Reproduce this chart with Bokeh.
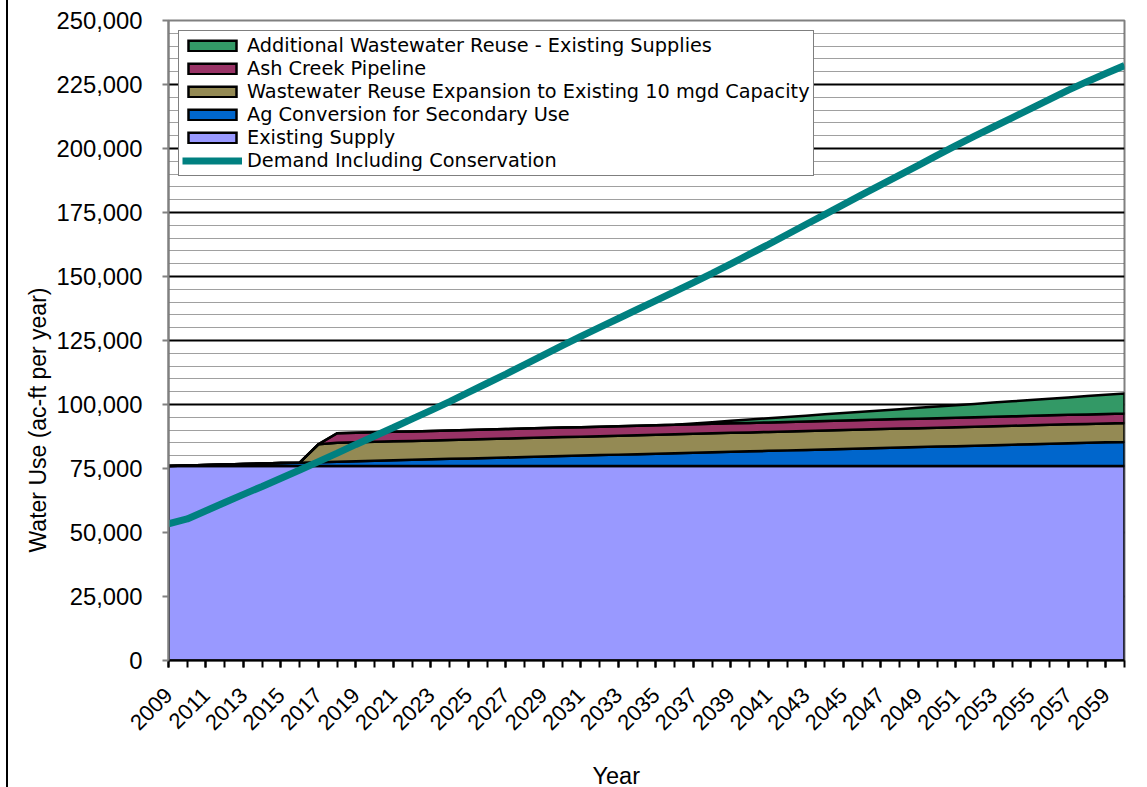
from bokeh.plotting import figure
from bokeh.models import (Range1d, FixedTicker, NumeralTickFormatter, Legend,
                          LegendItem, Title)
from bokeh.embed import file_html
from bokeh.resources import INLINE
import math

# ---- data (acre-feet per year) ----
years = list(range(2009, 2061))

existing_supply = [
    76000, 76000, 76000, 76000, 76000, 76000, 76000, 76000, 76000, 76000,
    76000, 76000, 76000, 76000, 76000, 76000, 76000, 76000, 76000, 76000,
    76000, 76000, 76000, 76000, 76000, 76000, 76000, 76000, 76000, 76000,
    76000, 76000, 76000, 76000, 76000, 76000, 76000, 76000, 76000, 76000,
    76000, 76000, 76000, 76000, 76000, 76000, 76000, 76000, 76000, 76000,
    76000, 76000,
]
ag_conversion = [
    0, 180, 370, 550, 740, 920, 1100, 1290, 1470, 1660,
    1840, 2030, 2210, 2390, 2580, 2760, 2950, 3130, 3320, 3500,
    3690, 3870, 4050, 4240, 4420, 4610, 4790, 4980, 5160, 5350,
    5530, 5710, 5900, 6080, 6270, 6450, 6640, 6820, 7010, 7190,
    7370, 7560, 7740, 7930, 8110, 8300, 8480, 8670, 8850, 9030,
    9220, 9400,
]
wastewater_expansion = [
    0, 0, 0, 0, 0, 0, 0, 0, 7000, 7400,
    7400, 7400, 7400, 7400, 7400, 7400, 7400, 7400, 7400, 7400,
    7400, 7400, 7400, 7400, 7400, 7400, 7400, 7400, 7400, 7400,
    7400, 7400, 7400, 7400, 7400, 7400, 7400, 7400, 7400, 7400,
    7400, 7400, 7400, 7400, 7400, 7400, 7400, 7400, 7400, 7400,
    7400, 7400,
]
ash_creek = [
    0, 0, 0, 0, 0, 0, 0, 0, 0, 3700,
    3700, 3700, 3700, 3700, 3700, 3700, 3700, 3700, 3700, 3700,
    3700, 3700, 3700, 3700, 3700, 3700, 3700, 3700, 3700, 3700,
    3700, 3700, 3700, 3700, 3700, 3700, 3700, 3700, 3700, 3700,
    3700, 3700, 3700, 3700, 3700, 3700, 3700, 3700, 3700, 3700,
    3700, 3700,
]
additional_reuse = [
    0, 0, 0, 0, 0, 0, 0, 0, 0, 0,
    0, 0, 0, 0, 0, 0, 0, 0, 0, 0,
    0, 0, 0, 0, 0, 0, 0, 0, 330, 650,
    980, 1300, 1630, 1950, 2280, 2600, 2930, 3250, 3580, 3900,
    4230, 4550, 4880, 5200, 5530, 5850, 6180, 6500, 6830, 7150,
    7480, 7800,
]
demand = [
    53400, 55300, 58500, 61700, 64900, 68000, 71200, 74400, 77700, 81000,
    84400, 87700, 91000, 94400, 97700, 101100, 104700, 108300, 111900, 115600,
    119300, 123000, 126600, 130100, 133600, 137100, 140600, 144100, 147600, 151200,
    154900, 158700, 162500, 166400, 170300, 174200, 178100, 182000, 185800, 189600,
    193400, 197300, 201100, 204800, 208400, 212000, 215600, 219200, 222800, 226100,
    229300, 232400,
]

supply_names = [
    "Existing Supply",
    "Ag Conversion for Secondary Use",
    "Wastewater Reuse Expansion to Existing 10 mgd Capacity",
    "Ash Creek Pipeline",
    "Additional Wastewater Reuse - Existing Supplies",
]
supply_series = [existing_supply, ag_conversion, wastewater_expansion,
                 ash_creek, additional_reuse]
supply_colors = ["#9999FF", "#0066CC", "#948A54", "#993366", "#339966"]

y_ticks = list(range(0, 250001, 25000))
y_minor = list(range(0, 250001, 5000))
x_label_years = list(range(2009, 2060, 2))

FONT = "Liberation Sans"

p = figure(
    width=1139, height=787,
    frame_width=956, frame_height=640,
    min_border_left=160, min_border_right=23,
    min_border_top=20, min_border_bottom=127,
    x_range=Range1d(2009, 2060), y_range=Range1d(0, 250000),
    output_backend="svg", toolbar_location=None,
)
p.background_fill_color = "white"
p.border_fill_color = "white"
p.outline_line_color = "#808080"
p.outline_line_width = 2
# thin rule along the left edge of the chart area
p.styles = {"margin-left": "8px", "box-shadow": "-2px 0 0 0 black"}

# grid: solid every 25,000 and fine dotted every 5,000
p.xgrid.visible = False
p.ygrid.ticker = FixedTicker(ticks=y_ticks, minor_ticks=y_minor)
p.ygrid.grid_line_color = "black"
p.ygrid.grid_line_width = 2
p.ygrid.minor_grid_line_color = "#404040"
p.ygrid.minor_grid_line_dash = "1 1"
p.ygrid.minor_grid_line_width = 1

# stacked supply areas with black outlines
bottom = [0] * len(years)
renderers = {}
for name, series, color in zip(supply_names, supply_series, supply_colors):
    top = [b + v for b, v in zip(bottom, series)]
    xs = years + years[::-1]
    ys = top + bottom[::-1]
    r = p.patch(xs, ys, fill_color=color, line_color="black", line_width=2.5,
                line_join="miter")
    renderers[name] = r
    bottom = top

demand_r = p.line(years, demand, line_color="#008080", line_width=7)

# axes
p.yaxis.ticker = FixedTicker(ticks=y_ticks)
p.yaxis.formatter = NumeralTickFormatter(format="0,0")
p.yaxis.major_label_text_font = FONT
p.yaxis.major_label_text_font_size = "23.8px"
p.yaxis.major_label_text_color = "black"
p.yaxis.major_label_standoff = 20
p.yaxis.axis_line_color = "#808080"
p.yaxis.axis_line_width = 2
p.yaxis.major_tick_line_color = "#808080"
p.yaxis.major_tick_line_width = 2
p.yaxis.major_tick_out = 6
p.yaxis.major_tick_in = 0
p.yaxis.minor_tick_out = 0
p.yaxis.minor_tick_in = 0

p.xaxis.ticker = FixedTicker(ticks=x_label_years, minor_ticks=years)
p.xaxis.major_label_overrides = {y: str(y) for y in x_label_years}
p.xaxis.major_label_orientation = math.pi / 4
p.xaxis.major_label_text_font = FONT
p.xaxis.major_label_text_font_size = "22px"
p.xaxis.major_label_text_color = "black"
p.xaxis.major_label_standoff = 24
p.xaxis.axis_line_color = "black"
p.xaxis.axis_line_width = 2
p.xaxis.major_tick_line_color = "black"
p.xaxis.major_tick_line_width = 2
p.xaxis.minor_tick_line_color = "black"
p.xaxis.minor_tick_line_width = 2
p.xaxis.major_tick_out = 7
p.xaxis.major_tick_in = 0
p.xaxis.minor_tick_out = 7
p.xaxis.minor_tick_in = 0

# axis titles
x_title = Title(text="Year", align="left", offset=424, standoff=43,
                text_font=FONT, text_font_size="23.5px",
                text_font_style="normal", text_color="black")
p.add_layout(x_title, "below")
y_title = Title(text="Water Use (ac-ft per year)", align="left", offset=108,
                standoff=5, text_font=FONT, text_font_size="23px",
                text_font_style="normal", text_color="black")
p.add_layout(y_title, "left")

# legend, top layer first
items = [LegendItem(label=n, renderers=[renderers[n]]) for n in supply_names[::-1]]
items.append(LegendItem(label="Demand Including Conservation", renderers=[demand_r]))
legend = Legend(items=items, location="top_left")
legend.margin = 10
legend.padding = 3
legend.spacing = 0
legend.label_text_font = "DejaVu Sans"
legend.label_text_font_size = "19.3px"
legend.label_text_color = "black"
legend.label_standoff = 5
legend.label_height = 19
legend.glyph_width = 60
legend.glyph_height = 13
legend.border_line_color = "black"
legend.border_line_width = 1.5
legend.background_fill_color = "white"
legend.background_fill_alpha = 1
p.add_layout(legend, "center")

open("out.html", "w").write(file_html(p, INLINE))
